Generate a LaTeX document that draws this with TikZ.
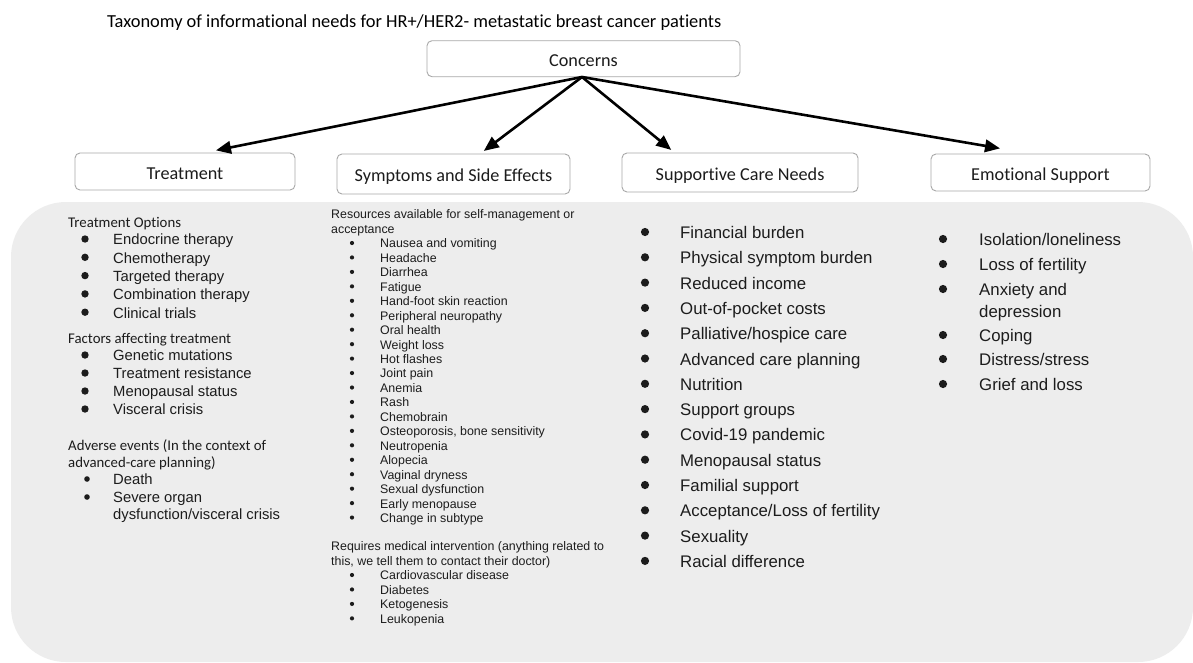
\documentclass[tikz,border=0pt]{standalone}
\usepackage{fontspec}
\setmainfont{Liberation Sans}
\newfontfamily\calfont[Ligatures=NoCommon]{Carlito}
\usetikzlibrary{arrows.meta}
\definecolor{panel}{HTML}{EDEDED}
\definecolor{bord}{HTML}{A8A8A8}
\definecolor{ink}{HTML}{1C1C1C}
\begin{document}
\begin{tikzpicture}[x=1pt,y=-1pt,
  catbox/.style={draw=bord, line width=0.9pt, fill=white, rounded corners=5pt,
    font=\calfont\fontsize{18.2}{20}\selectfont, text=ink, inner sep=0pt,
    text height=16pt, text depth=1pt},
  conn/.style={line width=2.6pt, draw=black, -{Triangle[length=15pt,width=12.5pt]}, shorten >=1pt},
  headA/.style={anchor=base west, yshift=-5.3pt, inner sep=0pt, font=\calfont\fontsize{14.8}{16}\selectfont, text=ink},
  itemA/.style={anchor=base west, yshift=-5.8pt, inner sep=0pt, font=\fontsize{14.8}{16}\selectfont, text=ink},
  itemB/.style={anchor=base west, yshift=-4.9pt, inner sep=0pt, font=\fontsize{12.4}{14}\selectfont, text=ink},
  itemC/.style={anchor=base west, yshift=-6.5pt, inner sep=0pt, font=\fontsize{16.8}{19}\selectfont, text=ink},
  titlestyle/.style={anchor=base west, inner sep=0pt, font=\calfont\fontsize{18.4}{20}\selectfont, text=black}
]
\useasboundingbox (0,0) rectangle (1193,662);
\fill[white] (0,0) rectangle (1193,662);
% panel
\begin{scope}
\clip (0,0) rectangle (1193,662);
\fill[panel, rounded corners=55pt] (11,202) rectangle (1193,662);
\end{scope}

% title
\node[titlestyle] (title) at (107,27) {Taxonomy of informational needs for HR+/HER2- metastatic breast cancer patients};

% category boxes
\node[catbox, minimum width=313pt, minimum height=36pt] (con) at (583.5,58.7) {Concerns};
\node[catbox, minimum width=220pt, minimum height=37pt] (tr) at (185,171.5) {Treatment};
\node[catbox, minimum width=233pt, minimum height=40pt] (sy) at (453.5,174) {Symptoms and Side Effects};
\node[catbox, minimum width=236pt, minimum height=39pt] (sc) at (740,172.5) {Supportive Care Needs};
\node[catbox, minimum width=219pt, minimum height=37pt] (em) at (1040.5,172.5) {Emotional Support};

% arrow targets
\coordinate (xtr) at (215,0);
\coordinate (xsy) at (483,0);
\coordinate (xsc) at (672,0);
\coordinate (xem) at (1001,0);
\coordinate (src) at (582,77);
\draw[conn] (src) -- ([yshift=2pt]tr.north -| xtr);
\draw[conn] (src) -- ([yshift=2pt]sy.north -| xsy);
\draw[conn] (src) -- ([yshift=2pt]sc.north -| xsc);
\draw[conn] (src) -- ([yshift=5pt]em.north -| xem);

% ---- Treatment column
\node[headA] (t1) at (68,222) {Treatment Options};
\foreach \t [count=\i] in {Endocrine therapy, Chemotherapy, Targeted therapy, Combination therapy, Clinical trials}{
  \node[itemA] (ta\i) at (113,{239+18.3*(\i-1)}) {\t};
  \fill[ink] (85,{239+18.3*(\i-1)}) circle (3.7pt);
}
\node[headA] (t2) at (68,338) {Factors affecting treatment};
\foreach \t [count=\i] in {Genetic mutations, Treatment resistance, Menopausal status, Visceral crisis}{
  \node[itemA] (tb\i) at (113,{355+18*(\i-1)}) {\t};
  \fill[ink] (85,{355+18*(\i-1)}) circle (3.7pt);
}
\node[headA] (t3) at (68,445) {Adverse events (In the context of};
\node[headA] (t3b) at (68,462) {advanced-care planning)};
\node[itemA] (tc1) at (113,479) {Death};
\fill[ink] (87,479) circle (2.8pt);
\node[itemA] (tc2) at (113,497) {Severe organ};
\fill[ink] (87,497) circle (2.8pt);
\node[itemA] (tc2b) at (113,514) {dysfunction/visceral crisis};

% ---- Symptoms column
\node[itemB] (s1) at (331,214) {Resources available for self-management or};
\node[itemB] (s1b) at (331,228.5) {acceptance};
\foreach \t [count=\i] in {Nausea and vomiting, Headache, Diarrhea, Fatigue, Hand-foot skin reaction,
  Peripheral neuropathy, Oral health, Weight loss, Hot flashes, Joint pain, Anemia, Rash, Chemobrain,
  {Osteoporosis, bone sensitivity}, Neutropenia, Alopecia, Vaginal dryness, Sexual dysfunction,
  Early menopause, Change in subtype}{
  \node[itemB] (sa\i) at (380,{243+14.45*(\i-1)}) {\t};
  \fill[ink] (352,{243+14.45*(\i-1)}) circle (2.1pt);
}
\node[itemB] (s2) at (331,546) {Requires medical intervention (anything related to};
\node[itemB] (s2b) at (331,560.5) {this, we tell them to contact their doctor)};
\foreach \t [count=\i] in {Cardiovascular disease, Diabetes, Ketogenesis, Leukopenia}{
  \node[itemB] (sb\i) at (380,{575+14.45*(\i-1)}) {\t};
  \fill[ink] (352,{575+14.45*(\i-1)}) circle (2.1pt);
}

% ---- Supportive care column
\foreach \t [count=\i] in {Financial burden, Physical symptom burden, Reduced income, Out-of-pocket costs,
  Palliative/hospice care, Advanced care planning, Nutrition, Support groups, Covid-19 pandemic,
  Menopausal status, Familial support, Acceptance/Loss of fertility, Sexuality, Racial difference}{
  \node[itemC] (ca\i) at (680,{232+25.3*(\i-1)}) {\t};
  \fill[ink] (645,{232+25.3*(\i-1)}) circle (4.1pt);
}

% ---- Emotional support column
\node[itemC] (e1) at (979,239) {Isolation/loneliness};
\fill[ink] (943,239) circle (4.1pt);
\node[itemC] (e2) at (979,264) {Loss of fertility};
\fill[ink] (943,264) circle (4.1pt);
\node[itemC] (e3) at (979,289) {Anxiety and};
\fill[ink] (943,289) circle (4.1pt);
\node[itemC] (e3b) at (979,310.5) {depression};
\node[itemC] (e4) at (979,335) {Coping};
\fill[ink] (943,335) circle (4.1pt);
\node[itemC] (e5) at (979,359) {Distress/stress};
\fill[ink] (943,359) circle (4.1pt);
\node[itemC] (e6) at (979,384) {Grief and loss};
\fill[ink] (943,384) circle (4.1pt);
\end{tikzpicture}
\end{document}
